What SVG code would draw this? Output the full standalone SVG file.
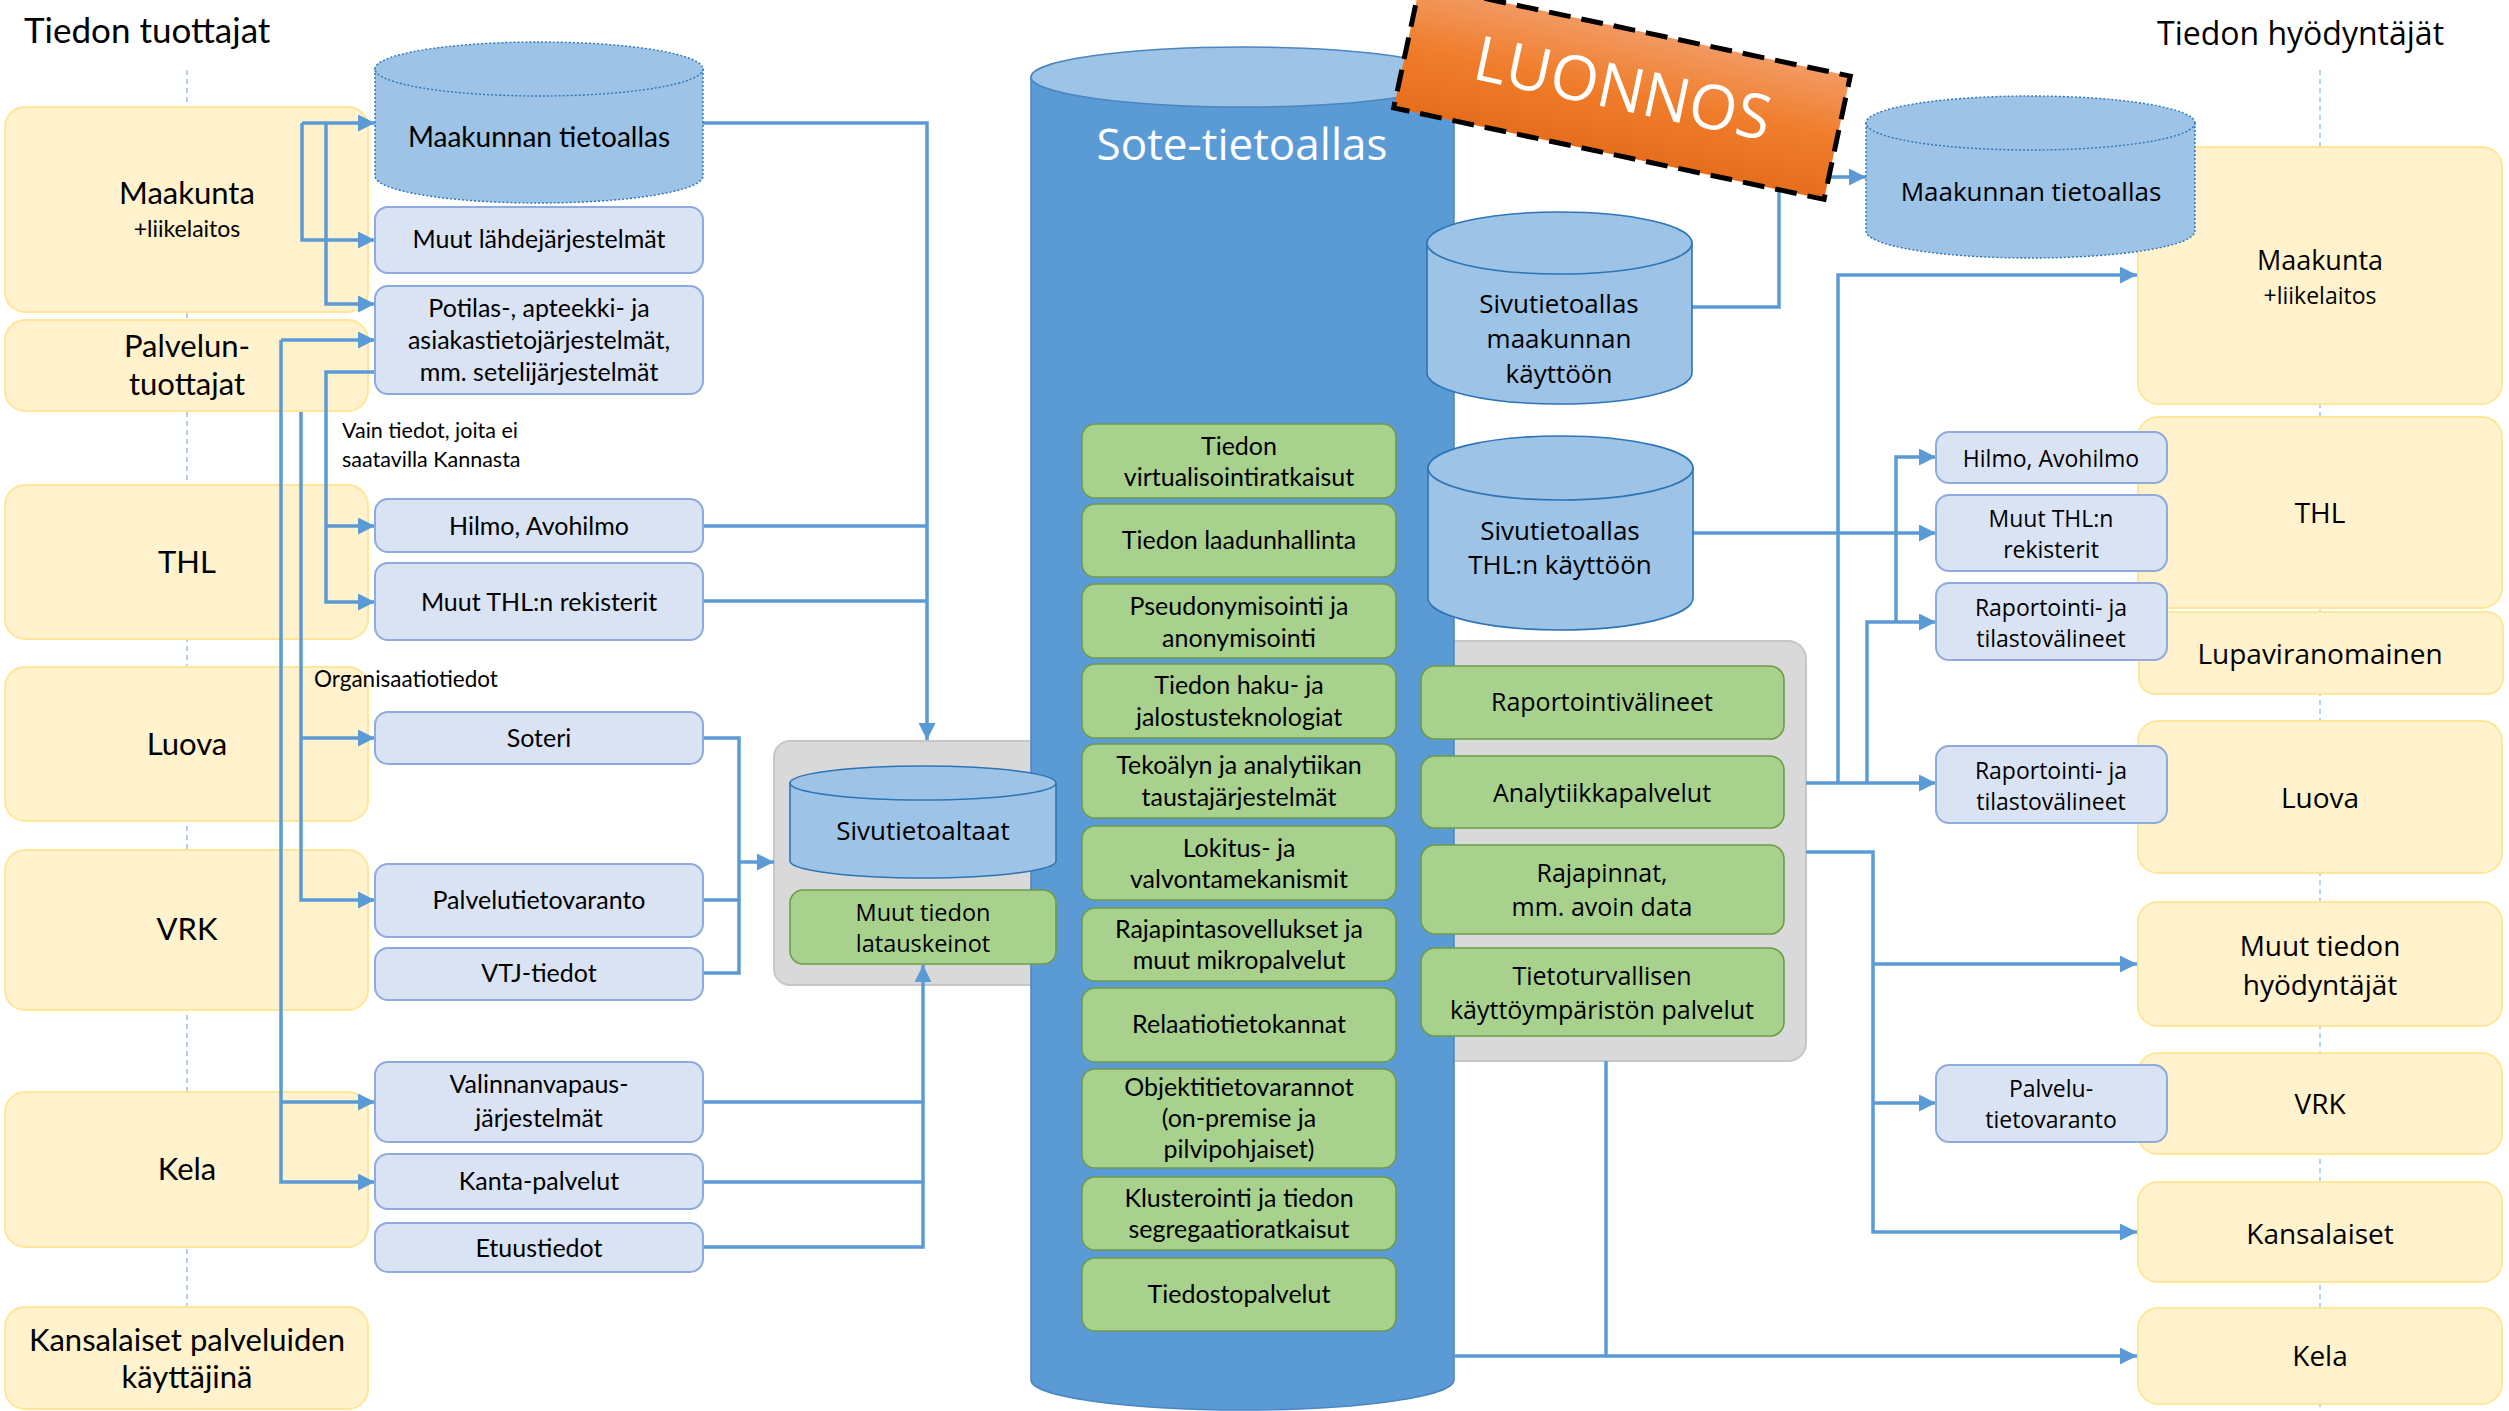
<svg xmlns="http://www.w3.org/2000/svg" width="2509" height="1411" viewBox="0 0 2509 1411">
<defs>
<style>
.cal{font-family:Lato,"Liberation Sans",sans-serif;fill:#000;text-anchor:middle}
.seg{font-family:"Open Sans","Noto Sans",sans-serif;fill:#000;text-anchor:middle}
.yel{fill:#FFF2CC;stroke:#FFE699;stroke-width:2}
.blu{fill:#DAE3F3;stroke:#8FAADC;stroke-width:2}
.grn{fill:#A9D18E;stroke:#6E9B4A;stroke-width:1.6}
.gry{fill:#D9D9D9;stroke:#C6C6C6;stroke-width:2}
.cyl{fill:#9DC3E6;stroke:#2E75B6;stroke-width:1.6}
.cyld{fill:#9DC3E6;stroke:#2E75B6;stroke-width:1.4;stroke-dasharray:2 2}
.conn{fill:none;stroke:#5B9BD5;stroke-width:3.5}
.arr{marker-end:url(#ah)}
.guide{stroke:#9DC3E6;stroke-width:1.5;stroke-dasharray:5 4}
</style>
<marker id="ah" viewBox="0 0 10 10" refX="10" refY="5" markerUnits="userSpaceOnUse" markerWidth="17" markerHeight="17" orient="auto">
<path d="M0,0 L10,5 L0,10 z" fill="#5B9BD5"/>
</marker>
<linearGradient id="badgeGrad" x1="0" y1="0" x2="0" y2="1">
<stop offset="0" stop-color="#F29A63"/>
<stop offset="0.5" stop-color="#F07D2B"/>
<stop offset="1" stop-color="#E56E1D"/>
</linearGradient>
</defs>
<rect x="0" y="0" width="2509" height="1411" fill="#FFFFFF"/>

<!-- guides -->
<g id="guides">
<line class="guide" x1="187" y1="70" x2="187" y2="1307"/>
<line class="guide" x1="2320" y1="70" x2="2320" y2="1411"/>
</g>

<!-- titles -->
<text class="cal" x="24" y="43" font-size="35" style="text-anchor:start">Tiedon tuottajat</text>
<text class="seg" x="2157" y="45" font-size="32" style="text-anchor:start">Tiedon hyödyntäjät</text>

<!-- left producers -->
<g id="p-maakunta"><rect class="yel" x="5" y="107" width="363" height="205" rx="20"/>
<text class="cal" x="187" y="204" font-size="31">Maakunta</text>
<text class="cal" x="187" y="237" font-size="23">+liikelaitos</text></g>
<g id="p-palvelun"><rect class="yel" x="5" y="320" width="363" height="91" rx="20"/>
<text class="cal" x="187" y="357" font-size="31">Palvelun-</text>
<text class="cal" x="187" y="395" font-size="31">tuottajat</text></g>
<g id="p-thl"><rect class="yel" x="5" y="485" width="363" height="154" rx="20"/>
<text class="cal" x="187" y="573" font-size="31">THL</text></g>
<g id="p-luova"><rect class="yel" x="5" y="667" width="363" height="154" rx="20"/>
<text class="cal" x="187" y="755" font-size="31">Luova</text></g>
<g id="p-vrk"><rect class="yel" x="5" y="850" width="363" height="160" rx="20"/>
<text class="cal" x="187" y="940" font-size="31">VRK</text></g>
<g id="p-kela"><rect class="yel" x="5" y="1092" width="363" height="155" rx="20"/>
<text class="cal" x="187" y="1180" font-size="31">Kela</text></g>
<g id="p-kansalaiset"><rect class="yel" x="5" y="1307" width="363" height="102" rx="20"/>
<text class="cal" x="187" y="1351" font-size="31">Kansalaiset palveluiden</text>
<text class="cal" x="187" y="1388" font-size="31">käyttäjinä</text></g>

<!-- right consumers -->
<g id="u-maakunta"><rect class="yel" x="2138" y="147" width="364" height="257" rx="20"/>
<text class="seg" x="2320" y="270" font-size="27">Maakunta</text>
<text class="seg" x="2320" y="304" font-size="23">+liikelaitos</text></g>
<g id="u-thl"><rect class="yel" x="2138" y="417" width="364" height="191" rx="20"/>
<text class="seg" x="2320" y="523" font-size="28">THL</text></g>
<g id="u-lupa"><rect class="yel" x="2139" y="612" width="364" height="82" rx="16"/>
<text class="seg" x="2320" y="664" font-size="28">Lupaviranomainen</text></g>
<g id="u-luova"><rect class="yel" x="2138" y="721" width="364" height="152" rx="20"/>
<text class="seg" x="2320" y="808" font-size="28">Luova</text></g>
<g id="u-muut"><rect class="yel" x="2138" y="902" width="364" height="124" rx="20"/>
<text class="seg" x="2320" y="956" font-size="28">Muut tiedon</text>
<text class="seg" x="2320" y="995" font-size="28">hyödyntäjät</text></g>
<g id="u-vrk"><rect class="yel" x="2138" y="1053" width="364" height="101" rx="20"/>
<text class="seg" x="2320" y="1114" font-size="28">VRK</text></g>
<g id="u-kansalaiset"><rect class="yel" x="2138" y="1182" width="364" height="100" rx="20"/>
<text class="seg" x="2320" y="1244" font-size="28">Kansalaiset</text></g>
<g id="u-kela"><rect class="yel" x="2138" y="1308" width="364" height="96" rx="20"/>
<text class="seg" x="2320" y="1366" font-size="28">Kela</text></g>

<!-- containers -->
<g id="sivutietoaltaat-container"><rect class="gry" x="774" y="741" width="330" height="244" rx="16"/></g>
<g id="palvelut-container"><rect class="gry" x="1400" y="641" width="406" height="420" rx="18"/></g>

<!-- Sote cylinder -->
<g id="sote-tietoallas">
<path d="M1031,77 L1031,1380 A211.5,30 0 0 0 1454,1380 L1454,77 Z" fill="#5B9BD5" stroke="#4A86C0" stroke-width="1.5"/>
<ellipse cx="1242.5" cy="77" rx="211.5" ry="30" fill="#9DC3E6" stroke="#4A86C0" stroke-width="1.5"/>
<text class="seg" x="1242" y="160" font-size="44" style="fill:#FFFFFF">Sote-tietoallas</text>
</g>

<!-- Sote green boxes -->
<g id="s-virtualisointi"><rect class="grn" x="1082" y="424" width="314" height="74" rx="13"/>
<text class="cal" x="1239" y="455" font-size="25">Tiedon</text>
<text class="cal" x="1239" y="486" font-size="25">virtualisointiratkaisut</text></g>
<g id="s-laatu"><rect class="grn" x="1082" y="504" width="314" height="73" rx="13"/>
<text class="cal" x="1239" y="549" font-size="25">Tiedon laadunhallinta</text></g>
<g id="s-pseudo"><rect class="grn" x="1082" y="584" width="314" height="74" rx="13"/>
<text class="cal" x="1239" y="615" font-size="25">Pseudonymisointi ja</text>
<text class="cal" x="1239" y="647" font-size="25">anonymisointi</text></g>
<g id="s-haku"><rect class="grn" x="1082" y="664" width="314" height="74" rx="13"/>
<text class="cal" x="1239" y="694" font-size="25">Tiedon haku- ja</text>
<text class="cal" x="1239" y="726" font-size="25">jalostusteknologiat</text></g>
<g id="s-tekoaly"><rect class="grn" x="1082" y="744" width="314" height="74" rx="13"/>
<text class="cal" x="1239" y="774" font-size="25">Tekoälyn ja analytiikan</text>
<text class="cal" x="1239" y="806" font-size="25">taustajärjestelmät</text></g>
<g id="s-lokitus"><rect class="grn" x="1082" y="826" width="314" height="74" rx="13"/>
<text class="cal" x="1239" y="857" font-size="25">Lokitus- ja</text>
<text class="cal" x="1239" y="888" font-size="25">valvontamekanismit</text></g>
<g id="s-rajapinta"><rect class="grn" x="1082" y="908" width="314" height="73" rx="13"/>
<text class="cal" x="1239" y="938" font-size="25">Rajapintasovellukset ja</text>
<text class="cal" x="1239" y="969" font-size="25">muut mikropalvelut</text></g>
<g id="s-relaatio"><rect class="grn" x="1082" y="988" width="314" height="74" rx="13"/>
<text class="cal" x="1239" y="1033" font-size="25">Relaatiotietokannat</text></g>
<g id="s-objekti"><rect class="grn" x="1082" y="1069" width="314" height="99" rx="13"/>
<text class="cal" x="1239" y="1096" font-size="25">Objektitietovarannot</text>
<text class="cal" x="1239" y="1127" font-size="25">(on-premise ja</text>
<text class="cal" x="1239" y="1158" font-size="25">pilvipohjaiset)</text></g>
<g id="s-klusterointi"><rect class="grn" x="1082" y="1177" width="314" height="73" rx="13"/>
<text class="cal" x="1239" y="1207" font-size="25">Klusterointi ja tiedon</text>
<text class="cal" x="1239" y="1238" font-size="25">segregaatioratkaisut</text></g>
<g id="s-tiedosto"><rect class="grn" x="1082" y="1258" width="314" height="73" rx="13"/>
<text class="cal" x="1239" y="1303" font-size="25">Tiedostopalvelut</text></g>

<!-- right green boxes -->
<g id="r-raportointi"><rect class="grn" x="1421" y="666" width="363" height="73" rx="14"/>
<text class="seg" x="1602" y="711" font-size="25">Raportointivälineet</text></g>
<g id="r-analytiikka"><rect class="grn" x="1421" y="756" width="363" height="72" rx="14"/>
<text class="seg" x="1602" y="802" font-size="25">Analytiikkapalvelut</text></g>
<g id="r-rajapinnat"><rect class="grn" x="1421" y="845" width="363" height="89" rx="14"/>
<text class="seg" x="1602" y="882" font-size="25">Rajapinnat,</text>
<text class="seg" x="1602" y="916" font-size="25">mm. avoin data</text></g>
<g id="r-tietoturva"><rect class="grn" x="1421" y="948" width="363" height="88" rx="14"/>
<text class="seg" x="1602" y="985" font-size="25">Tietoturvallisen</text>
<text class="seg" x="1602" y="1019" font-size="25">käyttöympäristön palvelut</text></g>

<!-- connectors -->
<g id="connectors">
<path class="conn arr" d="M302,123 L375,123"/>
<path class="conn arr" d="M302,123 L302,240 L375,240"/>
<path class="conn arr" d="M326,123 L326,304 L375,304"/>
<path class="conn arr" d="M281,340 L375,340"/>
<path class="conn arr" d="M281,340 L281,1182 L375,1182"/>
<path class="conn arr" d="M281,1102 L375,1102"/>
<path class="conn arr" d="M375,372 L326,372 L326,602 L375,602"/>
<path class="conn arr" d="M326,526 L375,526"/>
<path class="conn arr" d="M301,412 L301,900 L375,900"/>
<path class="conn arr" d="M301,738 L375,738"/>
<path class="conn arr" d="M703,123 L927,123 L927,740"/>
<path class="conn" d="M703,526 L927,526"/>
<path class="conn" d="M703,601 L927,601"/>
<path class="conn" d="M703,738 L739,738 L739,973 L703,973"/>
<path class="conn" d="M703,900 L739,900"/>
<path class="conn arr" d="M739,862 L774,862"/>
<path class="conn arr" d="M703,1247 L923,1247 L923,965"/>
<path class="conn" d="M703,1102 L923,1102"/>
<path class="conn" d="M703,1182 L923,1182"/>
<path class="conn arr" d="M1692,307 L1779,307 L1779,177 L1866,177"/>
<path class="conn arr" d="M1693,533 L1936,533"/>
<path class="conn arr" d="M1896,533 L1896,457 L1936,457"/>
<path class="conn" d="M1896,533 L1896,622"/>
<path class="conn arr" d="M1806,783 L1936,783"/>
<path class="conn arr" d="M1838,783 L1838,275 L2137,275"/>
<path class="conn arr" d="M1867,783 L1867,622 L1936,622"/>
<path class="conn arr" d="M1806,852 L1873,852 L1873,1232 L2137,1232"/>
<path class="conn arr" d="M1873,964 L2137,964"/>
<path class="conn arr" d="M1873,1103 L1936,1103"/>
<path class="conn arr" d="M1454,1356 L2137,1356"/>
<path class="conn" d="M1606,1061 L1606,1356"/>
</g>

<!-- connector labels -->
<text class="cal" x="342" y="438" font-size="21.5" style="text-anchor:start">Vain tiedot, joita ei</text>
<text class="cal" x="342" y="467" font-size="21.5" style="text-anchor:start">saatavilla Kannasta</text>
<text class="cal" x="314" y="687" font-size="22.5" style="text-anchor:start">Organisaatiotiedot</text>

<!-- left blue nodes -->
<g id="l-maakunnan-tietoallas">
<path class="cyld" d="M375,69 L375,176 A164,27 0 0 0 703,176 L703,69 Z"/>
<ellipse class="cyld" cx="539" cy="69" rx="164" ry="27"/>
<text class="cal" x="539" y="147" font-size="28">Maakunnan tietoallas</text></g>
<g id="l-muut-lahde"><rect class="blu" x="375" y="207" width="328" height="66" rx="13"/>
<text class="cal" x="539" y="248" font-size="25">Muut lähdejärjestelmät</text></g>
<g id="l-potilas"><rect class="blu" x="375" y="286" width="328" height="108" rx="13"/>
<text class="cal" x="539" y="317" font-size="25">Potilas-, apteekki- ja</text>
<text class="cal" x="539" y="349" font-size="25">asiakastietojärjestelmät,</text>
<text class="cal" x="539" y="381" font-size="25">mm. setelijärjestelmät</text></g>
<g id="l-hilmo"><rect class="blu" x="375" y="499" width="328" height="53" rx="13"/>
<text class="cal" x="539" y="535" font-size="25">Hilmo, Avohilmo</text></g>
<g id="l-muut-thl"><rect class="blu" x="375" y="563" width="328" height="77" rx="13"/>
<text class="cal" x="539" y="611" font-size="25">Muut THL:n rekisterit</text></g>
<g id="l-soteri"><rect class="blu" x="375" y="712" width="328" height="52" rx="13"/>
<text class="cal" x="539" y="747" font-size="25">Soteri</text></g>
<g id="l-palvelutietovaranto"><rect class="blu" x="375" y="864" width="328" height="73" rx="13"/>
<text class="cal" x="539" y="909" font-size="25">Palvelutietovaranto</text></g>
<g id="l-vtj"><rect class="blu" x="375" y="948" width="328" height="52" rx="13"/>
<text class="cal" x="539" y="982" font-size="25">VTJ-tiedot</text></g>
<g id="l-valinnanvapaus"><rect class="blu" x="375" y="1062" width="328" height="80" rx="13"/>
<text class="cal" x="539" y="1093" font-size="25">Valinnanvapaus-</text>
<text class="cal" x="539" y="1127" font-size="25">järjestelmät</text></g>
<g id="l-kanta"><rect class="blu" x="375" y="1154" width="328" height="55" rx="13"/>
<text class="cal" x="539" y="1190" font-size="25">Kanta-palvelut</text></g>
<g id="l-etuus"><rect class="blu" x="375" y="1223" width="328" height="49" rx="13"/>
<text class="cal" x="539" y="1257" font-size="25">Etuustiedot</text></g>

<!-- middle nodes -->
<g id="m-sivutietoaltaat">
<path class="cyl" d="M790,783 L790,861 A133,17 0 0 0 1056,861 L1056,783 Z"/>
<ellipse class="cyl" cx="923" cy="783" rx="133" ry="17"/>
<text class="seg" x="923" y="840" font-size="26">Sivutietoaltaat</text></g>
<g id="m-muut-lataus"><rect class="grn" x="790" y="890" width="266" height="74" rx="13"/>
<text class="seg" x="923" y="921" font-size="23.5">Muut tiedon</text>
<text class="seg" x="923" y="952" font-size="23.5">latauskeinot</text></g>
<g id="m-sivu-maakunta">
<path class="cyl" d="M1427,243 L1427,373 A132.5,31 0 0 0 1692,373 L1692,243 Z"/>
<ellipse class="cyl" cx="1559.5" cy="243" rx="132.5" ry="31"/>
<text class="seg" x="1559" y="313" font-size="26">Sivutietoallas</text>
<text class="seg" x="1559" y="348" font-size="26">maakunnan</text>
<text class="seg" x="1559" y="383" font-size="26">käyttöön</text></g>
<g id="m-sivu-thl">
<path class="cyl" d="M1428,468 L1428,598 A132.5,32 0 0 0 1693,598 L1693,468 Z"/>
<ellipse class="cyl" cx="1560.5" cy="468" rx="132.5" ry="32"/>
<text class="seg" x="1560" y="540" font-size="26">Sivutietoallas</text>
<text class="seg" x="1560" y="574" font-size="26">THL:n käyttöön</text></g>

<!-- right blue nodes -->
<g id="r-maakunnan-tietoallas">
<path class="cyld" d="M1866,123 L1866,231 A164.5,27 0 0 0 2195,231 L2195,123 Z"/>
<ellipse class="cyld" cx="2030.5" cy="123" rx="164.5" ry="27"/>
<text class="seg" x="2031" y="201" font-size="26">Maakunnan tietoallas</text></g>
<g id="r-hilmo"><rect class="blu" x="1936" y="432" width="231" height="51" rx="13"/>
<text class="seg" x="2051" y="467" font-size="23">Hilmo, Avohilmo</text></g>
<g id="r-muut-thl"><rect class="blu" x="1936" y="495" width="231" height="76" rx="13"/>
<text class="seg" x="2051" y="527" font-size="23">Muut THL:n</text>
<text class="seg" x="2051" y="558" font-size="23">rekisterit</text></g>
<g id="r-raportointi-thl"><rect class="blu" x="1936" y="583" width="231" height="77" rx="13"/>
<text class="seg" x="2051" y="616" font-size="23">Raportointi- ja</text>
<text class="seg" x="2051" y="647" font-size="23">tilastovälineet</text></g>
<g id="r-raportointi-luova"><rect class="blu" x="1936" y="746" width="231" height="77" rx="13"/>
<text class="seg" x="2051" y="779" font-size="23">Raportointi- ja</text>
<text class="seg" x="2051" y="810" font-size="23">tilastovälineet</text></g>
<g id="r-palvelutietovaranto"><rect class="blu" x="1936" y="1065" width="231" height="77" rx="13"/>
<text class="seg" x="2051" y="1097" font-size="23">Palvelu-</text>
<text class="seg" x="2051" y="1128" font-size="23">tietovaranto</text></g>

<!-- draft badge -->
<g id="luonnos" transform="translate(1622,92) rotate(12)">
<rect x="-220" y="-63" width="440" height="126" fill="url(#badgeGrad)" stroke="#000" stroke-width="5" stroke-dasharray="22 11"/>
<text class="seg" x="0" y="18" font-size="62" style="fill:#FFFFFF">LUONNOS</text>
</g>
</svg>
